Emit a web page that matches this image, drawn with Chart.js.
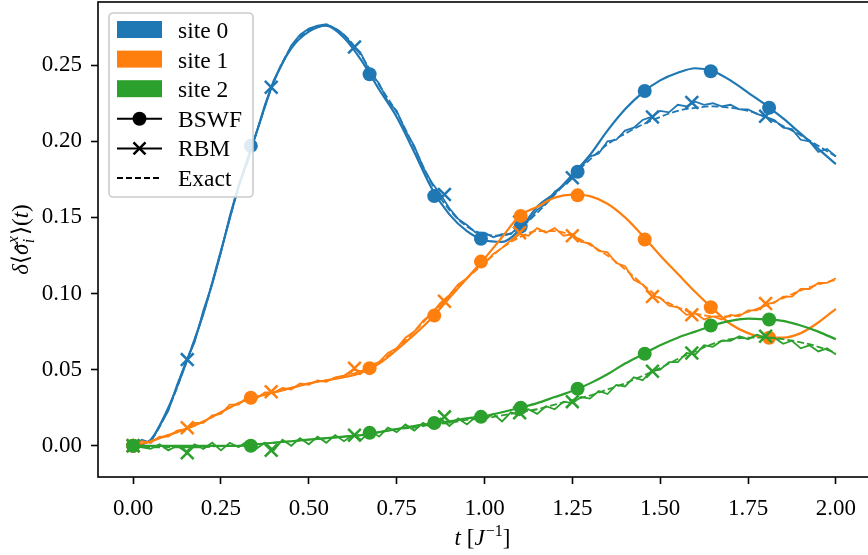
<!DOCTYPE html>
<html>
<head>
<meta charset="utf-8">
<script src="https://cdn.jsdelivr.net/npm/chart.js@4.4.0/dist/chart.umd.min.js"></script>
<style>
  html, body { margin: 0; padding: 0; background: #fff; overflow: hidden; }
  #wrap { width: 874px; height: 555px; }
</style>
</head>
<body>
<div id="wrap"><canvas id="sites" width="874" height="555"></canvas></div>
<script>
const siteNames = ["site 0", "site 1", "site 2"];
const siteColors = ["#1f77b4", "#ff7f0e", "#2ca02c"];
const methodNames = ["BSWF", "RBM", "Exact"];
const xTicks = [0, 0.25, 0.5, 0.75, 1, 1.25, 1.5, 1.75, 2];
const yTicks = [0, 0.05, 0.1, 0.15, 0.2, 0.25];

// time grids
const tSmooth = [0, 0.05, 0.1, 0.15, 0.2, 0.25, 0.3, 0.35, 0.4, 0.45, 0.5, 0.55, 0.6, 0.65, 0.7, 0.75, 0.8, 0.85, 0.9, 0.95,
  1, 1.05, 1.1, 1.15, 1.2, 1.25, 1.3, 1.35, 1.4, 1.45, 1.5, 1.55, 1.6, 1.65, 1.7, 1.75, 1.8, 1.85, 1.9, 1.95, 2];
const tRBM = [0, 0.025, 0.05, 0.075, 0.1, 0.125, 0.15, 0.175, 0.2, 0.225, 0.25, 0.275, 0.3, 0.325, 0.35, 0.375, 0.4, 0.425, 0.45, 0.475,
  0.5, 0.525, 0.55, 0.575, 0.6, 0.625, 0.65, 0.675, 0.7, 0.725, 0.75, 0.775, 0.8, 0.825, 0.85, 0.875, 0.9, 0.925, 0.95, 0.975,
  1, 1.025, 1.05, 1.075, 1.1, 1.125, 1.15, 1.175, 1.2, 1.225, 1.25, 1.275, 1.3, 1.325, 1.35, 1.375, 1.4, 1.425, 1.45, 1.475,
  1.5, 1.525, 1.55, 1.575, 1.6, 1.625, 1.65, 1.675, 1.7, 1.725, 1.75, 1.775, 1.8, 1.825, 1.85, 1.875, 1.9, 1.925, 1.95, 1.975, 2];
const tBswfMarks = [0, 0.335, 0.673, 0.857, 0.99, 1.103, 1.265, 1.456, 1.644, 1.81];
const tRbmMarks = [0, 0.154, 0.393, 0.63, 0.886, 1.1, 1.25, 1.478, 1.59, 1.8];

// site 0
const bswf0 = [0.000, 0.004, 0.025, 0.054, 0.087, 0.128, 0.170, 0.205, 0.239, 0.261, 0.272, 0.276, 0.268, 0.253, 0.234, 0.216, 0.193, 0.169, 0.152, 0.141,
  0.135, 0.134, 0.142, 0.157, 0.166, 0.178, 0.191, 0.207, 0.221, 0.232, 0.240, 0.245, 0.248, 0.246, 0.240, 0.232, 0.224, 0.215, 0.205, 0.195, 0.185];
const exact0 = [0.000, 0.004, 0.024, 0.054, 0.087, 0.128, 0.170, 0.205, 0.239, 0.262, 0.273, 0.276, 0.270, 0.256, 0.237, 0.219, 0.196, 0.172, 0.155, 0.144,
  0.139, 0.138, 0.143, 0.153, 0.165, 0.177, 0.188, 0.198, 0.205, 0.211, 0.216, 0.220, 0.222, 0.223, 0.222, 0.220, 0.216, 0.210, 0.204, 0.197, 0.190];
const rbm0 = [0.000, 0.004, 0.002, 0.013, 0.023, 0.040, 0.055, 0.068, 0.089, 0.106, 0.127, 0.151, 0.171, 0.186, 0.205, 0.224, 0.240, 0.251, 0.263, 0.270,
  0.274, 0.276, 0.277, 0.274, 0.270, 0.263, 0.257, 0.245, 0.238, 0.226, 0.220, 0.207, 0.197, 0.183, 0.173, 0.165, 0.156, 0.149, 0.145, 0.140,
  0.140, 0.137, 0.139, 0.139, 0.145, 0.148, 0.155, 0.159, 0.167, 0.171, 0.177, 0.183, 0.190, 0.192, 0.200, 0.201, 0.207, 0.209, 0.214, 0.216,
  0.220, 0.219, 0.224, 0.223, 0.226, 0.224, 0.225, 0.223, 0.224, 0.221, 0.221, 0.218, 0.216, 0.214, 0.209, 0.208, 0.201, 0.200, 0.193, 0.195, 0.190];
const bswfMarks0 = [0, 0.197, 0.244, 0.164, 0.136, 0.144, 0.180, 0.233, 0.246, 0.222];
const rbmMarks0 = [0, 0.0566, 0.2355, 0.262, 0.165, 0.147, 0.176, 0.216, 0.2255, 0.2165];

// site 1
const bswf1 = [0.000, 0.003, 0.007, 0.011, 0.016, 0.022, 0.028, 0.032, 0.035, 0.038, 0.041, 0.043, 0.045, 0.048, 0.054, 0.063, 0.073, 0.084, 0.097, 0.110,
  0.123, 0.137, 0.151, 0.157, 0.163, 0.165, 0.164, 0.159, 0.150, 0.138, 0.125, 0.113, 0.101, 0.090, 0.080, 0.074, 0.071, 0.071, 0.074, 0.081, 0.090];
const exact1 = [0.000, 0.003, 0.007, 0.011, 0.016, 0.022, 0.028, 0.032, 0.035, 0.038, 0.041, 0.043, 0.046, 0.049, 0.055, 0.064, 0.075, 0.087, 0.099, 0.110,
  0.120, 0.130, 0.137, 0.141, 0.141, 0.138, 0.132, 0.125, 0.116, 0.106, 0.097, 0.091, 0.087, 0.085, 0.085, 0.088, 0.092, 0.097, 0.102, 0.106, 0.109];
const rbm1 = [0.000, 0.003, 0.002, 0.006, 0.006, 0.010, 0.011, 0.015, 0.015, 0.020, 0.021, 0.027, 0.027, 0.032, 0.031, 0.035, 0.035, 0.038, 0.037, 0.041,
  0.040, 0.043, 0.042, 0.045, 0.046, 0.050, 0.049, 0.053, 0.055, 0.061, 0.064, 0.071, 0.075, 0.082, 0.087, 0.094, 0.099, 0.106, 0.110, 0.116,
  0.120, 0.126, 0.130, 0.135, 0.139, 0.138, 0.143, 0.140, 0.143, 0.138, 0.139, 0.134, 0.133, 0.128, 0.127, 0.120, 0.118, 0.109, 0.106, 0.099,
  0.097, 0.092, 0.091, 0.086, 0.087, 0.083, 0.085, 0.083, 0.086, 0.085, 0.089, 0.089, 0.093, 0.094, 0.098, 0.098, 0.103, 0.103, 0.107, 0.107, 0.110];
const bswfMarks1 = [0, 0.0316, 0.051, 0.0855, 0.121, 0.151, 0.1645, 0.1355, 0.091, 0.071];
const rbmMarks1 = [0, 0.0118, 0.0355, 0.051, 0.095, 0.140, 0.138, 0.098, 0.086, 0.0934];

// site 2
const bswf2 = [0.000, 0.000, 0.000, 0.000, 0.000, 0.000, 0.000, 0.001, 0.002, 0.003, 0.004, 0.005, 0.006, 0.007, 0.009, 0.011, 0.013, 0.0145, 0.016, 0.018,
  0.0195, 0.022, 0.025, 0.028, 0.032, 0.036, 0.041, 0.047, 0.054, 0.060, 0.066, 0.071, 0.075, 0.079, 0.082, 0.0835, 0.083, 0.082, 0.079, 0.075, 0.070];
const exact2 = [0.000, -0.001, -0.001, -0.001, -0.001, 0.000, 0.000, 0.001, 0.002, 0.003, 0.004, 0.005, 0.006, 0.007, 0.009, 0.011, 0.012, 0.014, 0.015, 0.017,
  0.018, 0.020, 0.022, 0.024, 0.027, 0.030, 0.033, 0.037, 0.041, 0.046, 0.051, 0.057, 0.062, 0.067, 0.070, 0.071, 0.071, 0.070, 0.068, 0.065, 0.061];
const rbm2 = [0.000, -0.001, -0.002, 0.001, -0.003, 0.000, -0.004, 0.001, -0.002, 0.002, -0.003, 0.002, -0.001, 0.003, -0.002, 0.002, -0.003, 0.004, 0.000, 0.005,
  0.001, 0.006, 0.002, 0.007, 0.003, 0.007, 0.004, 0.010, 0.006, 0.012, 0.009, 0.014, 0.010, 0.015, 0.012, 0.018, 0.013, 0.018, 0.014, 0.019,
  0.017, 0.021, 0.016, 0.022, 0.020, 0.024, 0.021, 0.026, 0.024, 0.029, 0.028, 0.032, 0.031, 0.036, 0.034, 0.040, 0.039, 0.045, 0.043, 0.049,
  0.050, 0.055, 0.055, 0.061, 0.060, 0.066, 0.065, 0.069, 0.069, 0.072, 0.070, 0.073, 0.071, 0.071, 0.067, 0.069, 0.064, 0.066, 0.062, 0.064, 0.060];
const bswfMarks2 = [0, 0.000, 0.0085, 0.015, 0.019, 0.025, 0.0375, 0.0605, 0.079, 0.083];
const rbmMarks2 = [0, -0.0046, -0.003, 0.007, 0.019, 0.0217, 0.029, 0.049, 0.061, 0.072];

const SERIF = "'Liberation Serif', 'DejaVu Serif', serif";
const FONT_SIZE = 23;
const LEGEND_FONT = 23.5;

function pairs(ts, ys) {
  return ts.map((t, i) => ({ x: t, y: ys[i] }));
}

const siteSeries = [
  { bswf: bswf0, exact: exact0, rbm: rbm0, bm: bswfMarks0, rm: rbmMarks0 },
  { bswf: bswf1, exact: exact1, rbm: rbm1, bm: bswfMarks1, rm: rbmMarks1 },
  { bswf: bswf2, exact: exact2, rbm: rbm2, bm: bswfMarks2, rm: rbmMarks2 },
];

const datasets = [];
siteSeries.forEach((s, k) => {
  const c = siteColors[k];
  const ord = 3 - k; // later sites on top
  datasets.push({ label: siteNames[k] + " BSWF marks", data: pairs(tBswfMarks, s.bm), showLine: false,
    pointStyle: "circle", pointRadius: 7, pointBackgroundColor: c, pointBorderWidth: 0, order: ord });
  datasets.push({ label: siteNames[k] + " RBM marks", data: pairs(tRbmMarks, s.rm), showLine: false,
    pointStyle: "crossRot", pointRadius: 9, pointBorderColor: c, pointBorderWidth: 2.5, order: ord });
  datasets.push({ label: siteNames[k] + " BSWF", data: pairs(tSmooth, s.bswf), showLine: true,
    borderColor: c, borderWidth: 2.2, pointRadius: 0, cubicInterpolationMode: "monotone", order: ord });
  datasets.push({ label: siteNames[k] + " RBM", data: pairs(tRBM, s.rbm), showLine: true,
    borderColor: c, borderWidth: 1.8, pointRadius: 0, tension: 0, order: ord });
  datasets.push({ label: siteNames[k] + " Exact", data: pairs(tSmooth, s.exact), showLine: true,
    borderColor: c, borderWidth: 1.8, borderDash: [7, 3], pointRadius: 0, cubicInterpolationMode: "monotone", order: ord });
});

// frame on all four sides, like matplotlib spines
const frame = {
  id: "frame",
  afterDraw(chart) {
    const { ctx, chartArea: a } = chart;
    ctx.save();
    ctx.strokeStyle = "#000";
    ctx.lineWidth = 1.6;
    ctx.strokeRect(a.left, a.top, a.right - a.left, a.bottom - a.top);
    ctx.restore();
  },
};

// mixed-style text (italic math letters, super/subscripts)
function fontFor(p, size) {
  return (p.it ? "italic " : "") + Math.round(size * (p.sc || 1)) + "px " + SERIF;
}
function measurePieces(ctx, pieces, size) {
  let w = 0;
  for (let i = 0; i < pieces.length; i++) {
    const p = pieces[i];
    ctx.font = fontFor(p, size);
    const pw = ctx.measureText(p.t).width + (p.gap || 0) * size;
    if (p.stack) {
      const q = pieces[i + 1];
      ctx.font = fontFor(q, size);
      w += Math.max(pw, ctx.measureText(q.t).width + (q.gap || 0) * size);
      i++;
    } else {
      w += pw;
    }
  }
  return w;
}
function drawPieces(ctx, pieces, x, baseline, size) {
  for (let i = 0; i < pieces.length; i++) {
    const p = pieces[i];
    ctx.font = fontFor(p, size);
    const pw = ctx.measureText(p.t).width + (p.gap || 0) * size;
    ctx.fillText(p.t, x, baseline + (p.dy || 0) * size);
    if (p.hat) {
      ctx.font = Math.round(size) + "px " + SERIF;
      const hw = ctx.measureText("\u02C6").width;
      ctx.fillText("\u02C6", x + pw / 2 - hw / 2 + 1.5, baseline + 0.12 * size);
    }
    if (p.stack) {
      const q = pieces[i + 1];
      ctx.font = fontFor(q, size);
      const qw = ctx.measureText(q.t).width + (q.gap || 0) * size;
      ctx.fillText(q.t, x, baseline + (q.dy || 0) * size);
      x += Math.max(pw, qw);
      i++;
    } else {
      x += pw;
    }
  }
}

const xTitle = [
  { t: "t", it: true }, { t: " [" }, { t: "J", it: true, gap: 0.05 },
  { t: "\u22121", sc: 0.7, dy: -0.38 }, { t: "]" },
];
const yTitle = [
  { t: "\u03B4", it: true }, { t: "\u27E8" }, { t: "\u03C3", it: true, hat: true, gap: 0.02 },
  { t: "x", it: true, sc: 0.7, dy: -0.42, stack: true, gap: 0.05 }, { t: "i", it: true, sc: 0.7, dy: 0.25 },
  { t: "\u27E9(" }, { t: "t", it: true }, { t: ")" },
];

const axisTitles = {
  id: "axisTitles",
  afterDraw(chart) {
    const { ctx, chartArea: a } = chart;
    ctx.save();
    ctx.fillStyle = "#000";
    ctx.textBaseline = "alphabetic";
    ctx.textAlign = "left";
    const wx = measurePieces(ctx, xTitle, FONT_SIZE);
    drawPieces(ctx, xTitle, (a.left + a.right) / 2 - wx / 2 - 2, a.bottom + 68, FONT_SIZE);
    const wy = measurePieces(ctx, yTitle, FONT_SIZE);
    ctx.translate(a.left - 70, (a.top + a.bottom) / 2);
    ctx.rotate(-Math.PI / 2);
    drawPieces(ctx, yTitle, -wy / 2, 0, FONT_SIZE);
    ctx.restore();
  },
};

// matplotlib-style legend box in the upper left of the axes
const legendEntries = [
  { label: siteNames[0], kind: "patch", color: siteColors[0] },
  { label: siteNames[1], kind: "patch", color: siteColors[1] },
  { label: siteNames[2], kind: "patch", color: siteColors[2] },
  { label: methodNames[0], kind: "circle" },
  { label: methodNames[1], kind: "cross" },
  { label: methodNames[2], kind: "dash" },
];
const legendBox = {
  id: "legendBox",
  afterDatasetsDraw(chart) {
    const { ctx, chartArea: a } = chart;
    const x0 = a.left + 11, y0 = a.top + 11, w = 144, h = 184, r = 4;
    ctx.save();
    ctx.beginPath();
    ctx.moveTo(x0 + r, y0);
    ctx.lineTo(x0 + w - r, y0);
    ctx.arcTo(x0 + w, y0, x0 + w, y0 + r, r);
    ctx.lineTo(x0 + w, y0 + h - r);
    ctx.arcTo(x0 + w, y0 + h, x0 + w - r, y0 + h, r);
    ctx.lineTo(x0 + r, y0 + h);
    ctx.arcTo(x0, y0 + h, x0, y0 + h - r, r);
    ctx.lineTo(x0, y0 + r);
    ctx.arcTo(x0, y0, x0 + r, y0, r);
    ctx.closePath();
    ctx.fillStyle = "rgba(255,255,255,0.85)";
    ctx.fill();
    ctx.strokeStyle = "#cccccc";
    ctx.lineWidth = 1.6;
    ctx.stroke();

    const hx0 = x0 + 8, hx1 = x0 + 53, hc = (hx0 + hx1) / 2;
    legendEntries.forEach((e, i) => {
      const cy = y0 + 17 + i * 29.6;
      ctx.fillStyle = "#000";
      ctx.strokeStyle = "#000";
      if (e.kind === "patch") {
        ctx.fillStyle = e.color;
        ctx.fillRect(hx0, cy - 9, hx1 - hx0, 17);
      } else {
        ctx.lineWidth = 2;
        ctx.setLineDash(e.kind === "dash" ? [6, 3] : []);
        ctx.beginPath();
        ctx.moveTo(hx0, cy);
        ctx.lineTo(hx1, cy);
        ctx.stroke();
        ctx.setLineDash([]);
        if (e.kind === "circle") {
          ctx.beginPath();
          ctx.arc(hc, cy, 7, 0, Math.PI * 2);
          ctx.fill();
        } else if (e.kind === "cross") {
          ctx.lineWidth = 2.5;
          ctx.beginPath();
          ctx.moveTo(hc - 6, cy - 6);
          ctx.lineTo(hc + 6, cy + 6);
          ctx.moveTo(hc - 6, cy + 6);
          ctx.lineTo(hc + 6, cy - 6);
          ctx.stroke();
        }
      }
      ctx.fillStyle = "#000";
      ctx.font = LEGEND_FONT + "px " + SERIF;
      ctx.textBaseline = "alphabetic";
      ctx.fillText(e.label, x0 + 69, cy + 8);
    });
    ctx.restore();
  },
};

// drop the extra room Chart.js keeps for edge labels, so the plot area
// matches the fixed matplotlib axes box
function noEdgePadding(scale) {
  scale.paddingLeft = 0;
  scale.paddingRight = 0;
  scale.paddingTop = 0;
  scale.paddingBottom = 0;
}

new Chart(document.getElementById("sites"), {
  type: "scatter",
  data: { datasets: datasets },
  options: {
    responsive: false,
    animation: false,
    events: [],
    layout: { autoPadding: false, padding: { left: 0, top: 2, right: 3, bottom: 0 } },
    plugins: {
      legend: { display: false },
      tooltip: { enabled: false },
    },
    scales: {
      x: {
        type: "linear",
        min: -0.1,
        max: 2.1,
        afterBuildTicks: (scale) => { scale.ticks = xTicks.map((v) => ({ value: v })); },
        afterFit: (scale) => { scale.height = 78; noEdgePadding(scale); },
        border: { display: false },
        grid: { drawOnChartArea: false, drawTicks: true, tickLength: 7, tickColor: "#000", tickWidth: 1.6 },
        ticks: {
          color: "#000",
          padding: 11,
          maxRotation: 0,
          font: { family: SERIF, size: FONT_SIZE },
          callback: (v) => Number(v).toFixed(2),
        },
      },
      y: {
        type: "linear",
        min: -0.0205,
        max: 0.2915,
        afterBuildTicks: (scale) => { scale.ticks = yTicks.map((v) => ({ value: v })); },
        afterFit: (scale) => { scale.width = 98; noEdgePadding(scale); },
        border: { display: false },
        grid: { drawOnChartArea: false, drawTicks: true, tickLength: 7, tickColor: "#000", tickWidth: 1.6 },
        ticks: {
          color: "#000",
          padding: 9,
          font: { family: SERIF, size: FONT_SIZE },
          callback: (v) => Number(v).toFixed(2),
        },
      },
    },
  },
  plugins: [frame, legendBox, axisTitles],
});
</script>
</body>
</html>
